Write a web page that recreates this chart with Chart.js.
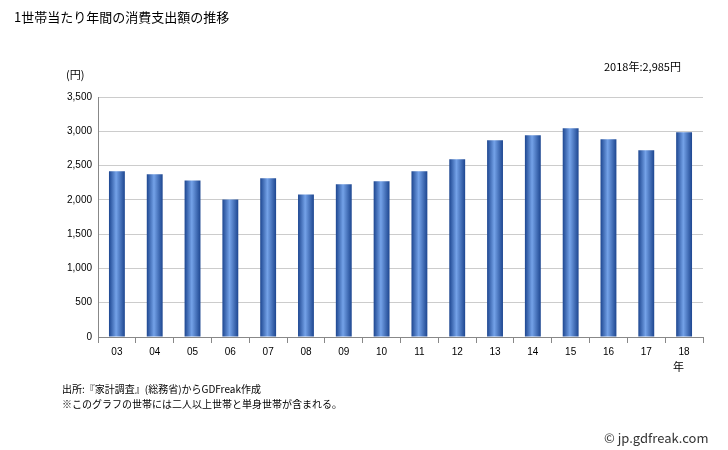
<!DOCTYPE html>
<html><head><meta charset="utf-8">
<script src="https://cdn.jsdelivr.net/npm/chart.js@4/dist/chart.umd.min.js"></script>
<style>
body{margin:0;background:#fff;font-family:"Noto Sans CJK JP",sans-serif;}
#wrap{position:absolute;left:0;top:0;width:728px;height:450px;}
.t{position:absolute;font-size:12px;color:#000;white-space:nowrap;}
</style></head><body>
<div id="wrap">
<canvas id="c" width="728" height="450" style="position:absolute;left:0;top:0;width:728px;height:450px"></canvas>
<div class="t" style="left:14px;top:7px;font-size:13px">1世帯当たり年間の消費支出額の推移</div>
<div class="t" style="left:604px;top:58px;font-size:11px">2018年:2,985円</div>
<div class="t" style="left:66px;top:66px;font-size:11px">(円)</div>
<div class="t" style="left:673px;top:358px;font-size:11px">年</div>
<div class="t" style="left:62px;top:381px;font-size:10px">出所:『家計調査』(総務省)からGDFreak作成</div>
<div class="t" style="left:62px;top:396px;font-size:10px">※このグラフの世帯には二人以上世帯と単身世帯が含まれる。</div>
<div class="t" style="left:604px;top:428px;font-size:13px;color:#333">© jp.gdfreak.com</div>
</div>
<script>
const categories=["03","04","05","06","07","08","09","10","11","12","13","14","15","16","17","18"];
const values=[2416,2372,2284,2006,2314,2079,2226,2270,2416,2592,2870,2943,3046,2885,2724,2985];
const ctx=document.getElementById('c').getContext('2d');
function grad(c){
  const ch=c.chart, a=ch.chartArea, xs=ch.scales&&ch.scales.x;
  if(!a||!xs) return '#3a6fc4';
  const x=xs.getPixelForValue(c.dataIndex);
  const w=(a.right-a.left)/categories.length*0.42;
  const g=ch.ctx.createLinearGradient(x-w/2,0,x+w/2,0);
  g.addColorStop(0,'#1d4690');g.addColorStop(0.45,'#74a2e8');g.addColorStop(1,'#1d4690');
  return g;
}
new Chart(ctx,{type:'bar',
data:{labels:categories,datasets:[{data:values,backgroundColor:grad,borderWidth:0,barPercentage:0.42,categoryPercentage:1}]},
options:{responsive:false,animation:false,
layout:{padding:{left:58,right:25,top:97,bottom:89}},
plugins:{legend:{display:false},tooltip:{enabled:false}},
scales:{
x:{grid:{display:true,drawOnChartArea:false,color:'#888',tickLength:6,offset:true},border:{color:'#888'},
 ticks:{color:'#000',font:{size:10}}},
y:{min:0,max:3500,afterFit:s=>{s.width=40},grid:{color:'#ccc',tickLength:0},border:{color:'#888'},
 ticks:{stepSize:500,color:'#000',font:{size:10},padding:6,callback:v=>v.toLocaleString('en-US')}}
}}});
</script>
</body></html>
